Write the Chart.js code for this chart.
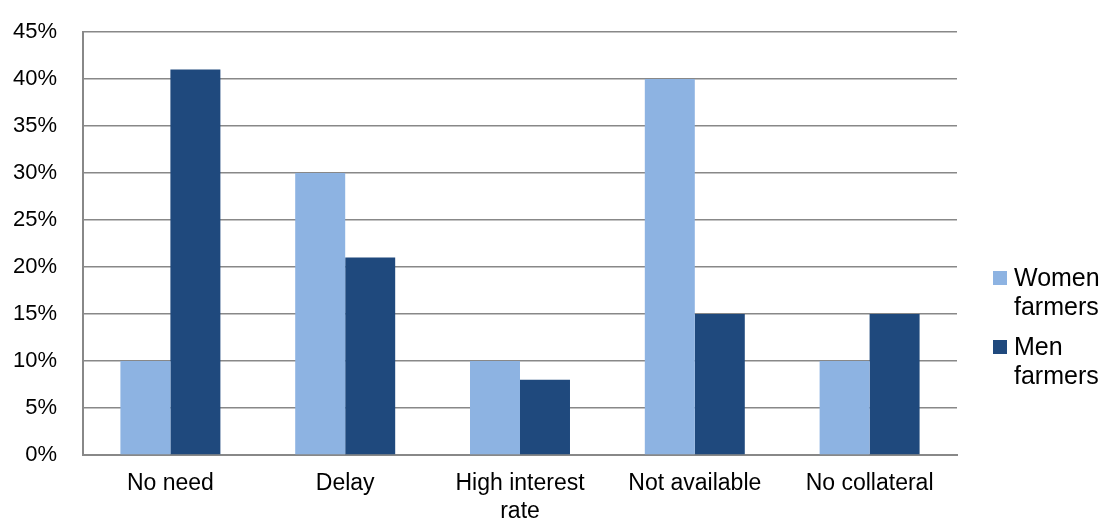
<!DOCTYPE html>
<html><head><meta charset="utf-8">
<script src="https://cdn.jsdelivr.net/npm/chart.js@4/dist/chart.umd.min.js"></script>
<style>html,body{margin:0;padding:0;background:#fff}#wrap{width:1106px;height:520px}</style>
</head><body><div id="wrap"><canvas id="c" width="1106" height="520"></canvas></div>
<script>
const categories = ["No need", "Delay", ["High interest", "rate"], "Not available", "No collateral"];
const women = [10, 30, 10, 40, 10];
const men = [41, 21, 8, 15, 15];
const seriesNames = [["Women", "farmers"], ["Men", "farmers"]];
const colors = ["#8DB3E2", "#1F497D"];
const FONT = "'Liberation Sans', Arial, sans-serif";

const legendPlugin = {
  id: 'customLegend',
  afterDraw(chart) {
    const ctx = chart.ctx;
    ctx.save();
    ctx.font = "25px " + FONT;
    ctx.textBaseline = "alphabetic";
    const x0 = 993;
    const baselines = [[286, 315], [355, 384]];
    chart.data.datasets.forEach((ds, i) => {
      const b = baselines[i];
      ctx.fillStyle = ds.backgroundColor;
      ctx.fillRect(x0, b[0] - 15, 14, 14);
      ctx.fillStyle = "#000";
      ds.label.forEach((t, j) => ctx.fillText(t, x0 + 21, b[j]));
    });
    ctx.restore();
  }
};

new Chart(document.getElementById('c'), {
  type: 'bar',
  data: {
    labels: categories,
    datasets: [
      {label: seriesNames[0], data: women, backgroundColor: colors[0]},
      {label: seriesNames[1], data: men, backgroundColor: colors[1]}
    ]
  },
  options: {
    responsive: false,
    animation: false,
    devicePixelRatio: 1,
    layout: {padding: {top: 32, right: 149, left: 0, bottom: 0}},
    datasets: {bar: {categoryPercentage: 0.572, barPercentage: 1.0}},
    plugins: {legend: {display: false}, tooltip: {enabled: false}},
    scales: {
      x: {
        afterFit: s => { s.height = 65; },
        grid: {display: false, drawTicks: false},
        border: {color: '#888', width: 2},
        ticks: {color: '#000', font: {family: FONT, size: 23, lineHeight: 1.25}, padding: 14, maxRotation: 0, autoSkip: false}
      },
      y: {
        afterFit: s => { s.width = 83; s.paddingTop = 0; s.paddingBottom = 0; },
        min: 0, max: 45,
        grid: {color: '#888', lineWidth: 1.5, drawTicks: false},
        border: {color: '#888', width: 2},
        ticks: {stepSize: 5, color: '#000', font: {family: FONT, size: 22}, padding: 26, callback: v => v + '%'}
      }
    }
  },
  plugins: [legendPlugin]
});
</script></body></html>
